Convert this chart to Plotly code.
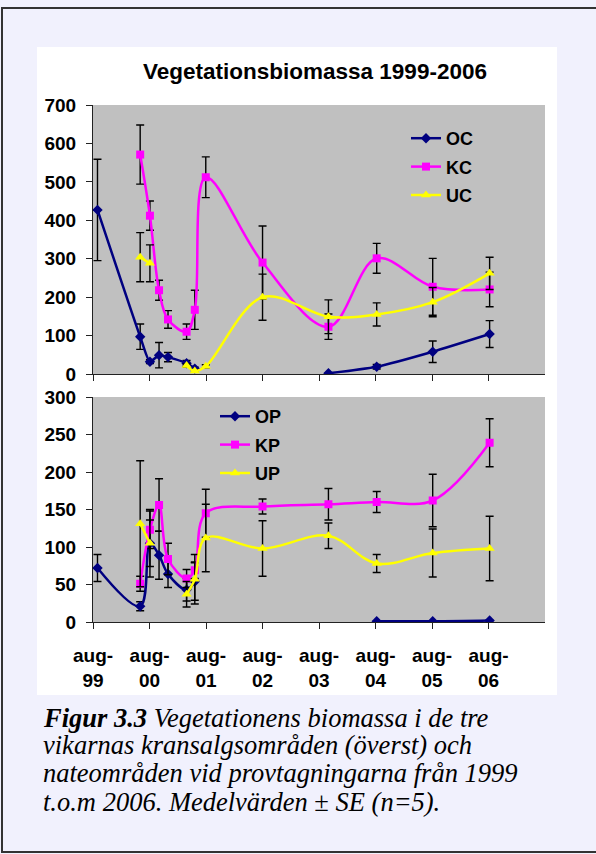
import plotly.graph_objects as go

# ---------------- data ----------------
dates = ["1999-08-30", "2000-06-01", "2000-08-03", "2000-10-01", "2000-11-28",
         "2001-03-28", "2001-05-20", "2001-07-30", "2002-08-01", "2003-10-01",
         "2004-08-08", "2005-08-05", "2006-08-08"]
N = None
oc = [427, 97, 32, 49, 44, 28, 14, N, N, 2, 19, 58, 104]
oc_se = [132, 33, 5, 33, 12, 7, 4, N, N, N, 6, 28, 35]
kc = [N, 571, 412, 218, 142, 110, 167, 512, 290, 123, 301, 227, 220]
kc_se = [N, 77, 38, 26, 23, 20, 51, 53, 95, 33, 39, 74, 45]
uc = [N, 304, 288, N, N, 22, 8, 20, 200, 149, 155, 187, 262]
uc_se = [N, 64, 48, N, N, 4, 3, 4, 60, 44, 30, 38, 42]

op = [72, 21, 105, 89, 64, 43, 54, N, N, N, 1, 1, 2]
op_se = [18, 6, 45, 32, 18, 15, 25, N, N, N, N, N, N]
kp = [N, 51, 123, 156, 84, 58, 69, 145, 154, 157, 160, 162, 239]
kp_se = [N, 10, 25, 35, 21, 12, 11, 32, 10, 21, 14, 35, 32]
up = [N, 131, 105, N, N, 37, 57, 112, 98, 115, 78, 92, 98]
up_se = [N, 84, 31, N, N, 17, 33, 45, 37, 17, 12, 32, 43]

tick_dates = ["1999-08-01", "2000-08-01", "2001-08-01", "2002-08-01",
              "2003-08-01", "2004-08-01", "2005-08-01", "2006-08-01"]
tick_labels = ["aug-<br>99", "aug-<br>00", "aug-<br>01", "aug-<br>02",
               "aug-<br>03", "aug-<br>04", "aug-<br>05", "aug-<br>06"]

title_text = "Vegetationsbiomassa 1999-2006"
caption_lines = [
    "<b><i>Figur 3.3</i></b><i> Vegetationens biomassa i de tre</i>",
    "<i>vikarnas kransalgsområden (överst) och</i>",
    "<i>nateområden vid provtagningarna från 1999</i>",
    "<i>t.o.m 2006. Medelvärden </i>± <i>SE (n=5).</i>",
]

# ---------------- layout helpers ----------------
W, H = 596, 854
def px(x):
    return x / W
def py(y):
    return 1 - y / H

NAVY, MAG, YEL = "#000080", "#FF00FF", "#FFFF00"
SANS = "Liberation Sans, Arial, sans-serif"
SERIF = "Liberation Serif, Times New Roman, serif"

fig = go.Figure()

def add(name, y, se, color, symbol, msize, xa, ya, legend, smooth=1.0):
    fig.add_trace(go.Scatter(
        x=dates, y=y, name=name, mode="lines+markers",
        xaxis=xa, yaxis=ya, legend=legend, legendgroup=name,
        line=dict(color=color, width=2.5, shape="spline", smoothing=smooth),
        marker=dict(color=color, symbol=symbol, size=msize),
        error_y=dict(type="data", array=se, visible=True, color="black",
                     thickness=1.4, width=4),
        connectgaps=False, showlegend=True,
    ))

add("OC", oc, oc_se, NAVY, "diamond", 8, "x", "y", "legend", 0.6)
add("KC", kc, kc_se, MAG, "square", 8, "x", "y", "legend")
add("UC", uc, uc_se, YEL, "triangle-up", 9, "x", "y", "legend")
add("OP", op, op_se, NAVY, "diamond", 8, "x2", "y2", "legend2")
add("KP", kp, kp_se, MAG, "square", 8, "x2", "y2", "legend2")
add("UP", up, up_se, YEL, "triangle-up", 9, "x2", "y2", "legend2")

xdom = [px(93), px(545)]
tickfont = dict(family=SANS, size=19, color="black", weight="bold")
xcommon = dict(domain=xdom, type="date", range=["1999-08-01", "2007-08-01"],
               tickvals=tick_dates, ticks="outside", ticklen=6, tickwidth=1,
               tickcolor="#222", showline=True, linecolor="#222", linewidth=1,
               showgrid=False, zeroline=False, fixedrange=True, automargin=False)
ycommon = dict(ticks="outside", ticklen=6, tickwidth=1, tickcolor="#222",
               showline=True, linecolor="#222", linewidth=1, showgrid=False,
               zeroline=False, tickfont=tickfont, ticklabelstandoff=6,
               automargin=False, fixedrange=True)

legfont = dict(family=SANS, size=18, color="black", weight="bold")
fig.update_layout(
    width=W, height=H, margin=dict(l=0, r=0, t=0, b=0, autoexpand=False),
    paper_bgcolor="#F1F1FD", plot_bgcolor="rgba(0,0,0,0)",
    xaxis=dict(xcommon, anchor="y", showticklabels=False),
    yaxis=dict(ycommon, domain=[py(374), py(105)], range=[0, 700], dtick=100, anchor="x"),
    xaxis2=dict(xcommon, anchor="y2", ticktext=tick_labels, tickfont=tickfont,
                ticklabelstandoff=10),
    yaxis2=dict(ycommon, domain=[py(622), py(397)], range=[0, 300], dtick=50, anchor="x2"),
    legend=dict(x=px(406), y=py(120), xanchor="left", yanchor="top",
                bgcolor="rgba(0,0,0,0)", font=legfont,
                traceorder="grouped", tracegroupgap=2, itemclick=False),
    legend2=dict(x=px(215), y=py(398), xanchor="left", yanchor="top",
                 bgcolor="rgba(0,0,0,0)", font=legfont,
                 traceorder="grouped", tracegroupgap=2, itemclick=False),
    showlegend=True,
)

shapes = [
    # outer frame
    dict(type="rect", xref="paper", yref="paper", x0=px(2), x1=1.05, y0=py(852), y1=py(8),
         line=dict(color="#333", width=2), fillcolor="rgba(0,0,0,0)", layer="below"),
    # white chart panel
    dict(type="rect", xref="paper", yref="paper", x0=px(37), x1=px(557), y0=py(695), y1=py(47),
         line=dict(width=0), fillcolor="white", layer="below"),
    # grey plot areas
    dict(type="rect", xref="x domain", yref="y domain", x0=0, x1=1, y0=0, y1=1,
         line=dict(width=0), fillcolor="#C0C0C0", layer="below"),
    dict(type="rect", xref="x2 domain", yref="y2 domain", x0=0, x1=1, y0=0, y1=1,
         line=dict(width=0), fillcolor="#C0C0C0", layer="below"),
]
fig.update_layout(shapes=shapes)

annotations = [
    dict(text=f"<b>{title_text}</b>", x=px(315), y=py(72), xref="paper", yref="paper",
         xanchor="center", yanchor="middle", showarrow=False,
         font=dict(family=SANS, size=22.5, color="black")),
]
cap_y = [718, 745, 773, 802]
for t, yy in zip(caption_lines, cap_y):
    annotations.append(dict(text=t, x=px(41), y=py(yy), xref="paper", yref="paper",
                            xanchor="left", yanchor="middle", showarrow=False,
                            font=dict(family=SERIF, size=26.5, color="black")))
fig.update_layout(annotations=annotations)

fig.write_html("out.html", config={"displayModeBar": False},
               post_script="document.body.style.margin='0px';document.body.style.overflow='hidden';")
